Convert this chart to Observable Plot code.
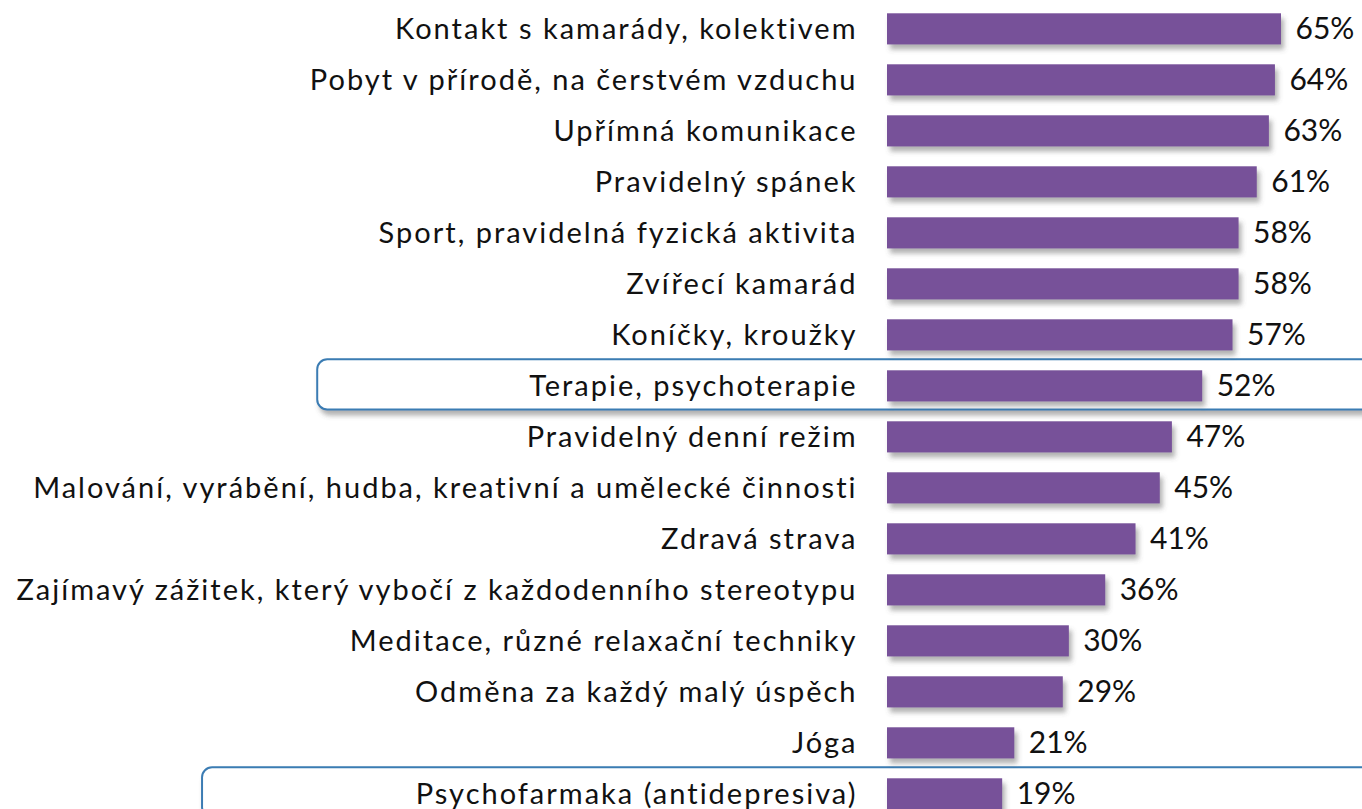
<!DOCTYPE html>
<html>
<head>
<meta charset="utf-8">
<script src="https://cdn.jsdelivr.net/npm/d3@7"></script>
<script src="https://cdn.jsdelivr.net/npm/@observablehq/plot@0.6"></script>
<style>
html, body { margin: 0; padding: 0; background: #fff; }
#chart { width: 1362px; height: 809px; overflow: hidden; }
</style>
</head>
<body>
<div id="chart"></div>
<script>
const categories = [
  "Kontakt s kamarády, kolektivem",
  "Pobyt v přírodě, na čerstvém vzduchu",
  "Upřímná komunikace",
  "Pravidelný spánek",
  "Sport, pravidelná fyzická aktivita",
  "Zvířecí kamarád",
  "Koníčky, kroužky",
  "Terapie, psychoterapie",
  "Pravidelný denní režim",
  "Malování, vyrábění, hudba, kreativní a umělecké činnosti",
  "Zdravá strava",
  "Zajímavý zážitek, který vybočí z každodenního stereotypu",
  "Meditace, různé relaxační techniky",
  "Odměna za každý malý úspěch",
  "Jóga",
  "Psychofarmaka (antidepresiva)"
];
const values = [65, 64, 63, 61, 58, 58, 57, 52, 47, 45, 41, 36, 30, 29, 21, 19];
const highlighted = ["Terapie, psychoterapie", "Psychofarmaka (antidepresiva)"];

const data = categories.map((c, i) => ({label: c, value: values[i]}));
const hl = highlighted.map(label => ({label}));

// annotation box left edges (in x-scale units, extending into the label area)
const boxLeft = {"Terapie, psychoterapie": -94, "Psychofarmaka (antidepresiva)": -113};

const FONT = "Lato";
const plot = Plot.plot({
  width: 1362,
  height: 809,
  marginLeft: 887,
  marginRight: 81,
  marginTop: 0,
  marginBottom: 0,
  x: {domain: [0, 65], range: [887, 1281], axis: null},
  y: {domain: categories, range: [13.3, 809.4], paddingInner: 0.39, paddingOuter: 0, round: false, axis: null},
  marks: [
    Plot.barX(hl, {y: "label", x1: d => boxLeft[d.label], x2: 80, fill: "white", stroke: "#3b7cb3", strokeWidth: 2, rx: 10, insetTop: -11, insetBottom: -8}),
    Plot.barX(data, {y: "label", x: "value", fill: "#775199"}),
    Plot.text(data, {y: "label", x: 0, text: "label", textAnchor: "end", dx: -30, fontSize: 29, fontFamily: FONT, fill: "#111"}),
    Plot.text(data, {y: "label", x: "value", text: d => d.value + "%", textAnchor: "start", dx: 14, fontSize: 30, fontFamily: FONT, fill: "#111"})
  ]
});

const ns = "http://www.w3.org/2000/svg";
const defs = document.createElementNS(ns, "defs");
defs.innerHTML = '<filter id="shadow" x="-10%" y="-30%" width="130%" height="180%"><feDropShadow dx="3" dy="5" stdDeviation="2.5" flood-color="#555" flood-opacity="0.45"/></filter>';
plot.insertBefore(defs, plot.firstChild);
plot.querySelectorAll('g[aria-label="bar"]').forEach(g => g.setAttribute("filter", "url(#shadow)"));
const texts = plot.querySelectorAll('g[aria-label="text"]');
texts[0].style.letterSpacing = "2px";
plot.style.overflow = "hidden";
document.getElementById("chart").appendChild(plot);
</script>
</body>
</html>
